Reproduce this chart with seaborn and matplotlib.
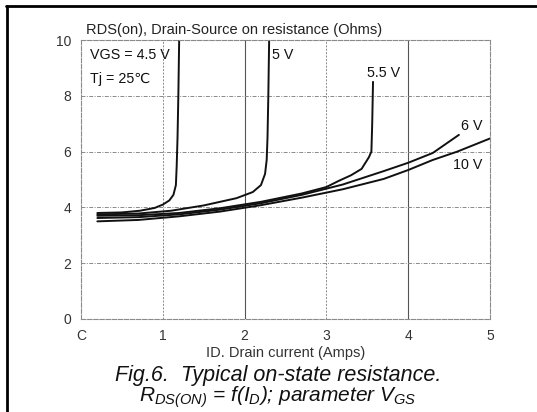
import matplotlib as mpl
import matplotlib.pyplot as plt
import numpy as np
import pandas as pd
import seaborn as sns
from matplotlib.lines import Line2D

id_45 = [0.2, 0.5, 0.72, 0.9, 1.0, 1.08, 1.13, 1.16, 1.17, 1.18, 1.19, 1.2]
r_45 = [3.8, 3.82, 3.88, 3.98, 4.1, 4.25, 4.45, 4.8, 5.5, 6.5, 8.0, 10.0]

id_5 = [0.2, 0.7, 1.1, 1.5, 1.9, 2.1, 2.2, 2.25, 2.27, 2.28, 2.29, 2.3]
r_5 = [3.75, 3.78, 3.88, 4.07, 4.33, 4.55, 4.8, 5.2, 5.7, 6.5, 8.0, 10.0]

id_55 = [0.2, 0.7, 1.2, 1.7, 2.2, 2.7, 3.0, 3.15, 3.3, 3.43, 3.52, 3.55, 3.56, 3.57]
r_55 = [3.7, 3.72, 3.8, 3.97, 4.2, 4.5, 4.73, 4.95, 5.15, 5.38, 5.8, 6.0, 7.0, 8.5]

id_6 = [0.2, 0.7, 1.2, 1.7, 2.2, 2.7, 3.2, 3.7, 4.0, 4.3, 4.62]
r_6 = [3.62, 3.65, 3.75, 3.92, 4.15, 4.45, 4.82, 5.3, 5.6, 5.95, 6.6]

id_10 = [0.2, 0.7, 1.2, 1.7, 2.2, 2.7, 3.2, 3.7, 4.0, 4.3, 4.6, 5.0]
r_10 = [3.5, 3.55, 3.68, 3.85, 4.08, 4.35, 4.65, 5.02, 5.34, 5.7, 6.0, 6.47]

vgs_names = ["4.5 V", "5 V", "5.5 V", "6 V", "10 V"]
x_ticks = [0, 1, 2, 3, 4, 5]
x_ticklabels = ["C", "1", "2", "3", "4", "5"]
y_ticks = [0, 2, 4, 6, 8, 10]

INK = "#111111"
GRID = "#8a8a8a"


def build_frame():
    parts = []
    for name, xs, ys in zip(vgs_names, [id_45, id_5, id_55, id_6, id_10],
                            [r_45, r_5, r_55, r_6, r_10]):
        parts.append(pd.DataFrame({"id": xs, "rds": ys, "vgs": name,
                                   "order": np.arange(len(xs))}))
    return pd.concat(parts, ignore_index=True)


def main():
    sns.set_style("white")
    mpl.rcParams["font.family"] = ["Liberation Sans", "DejaVu Sans"]
    mpl.rcParams["mathtext.fontset"] = "custom"
    mpl.rcParams["mathtext.it"] = "Liberation Sans:italic"
    mpl.rcParams["mathtext.rm"] = "Liberation Sans:italic"

    fig = plt.figure(figsize=(5.37, 4.12), dpi=100)
    ax = fig.add_axes([81 / 537, 93 / 412, 409 / 537, 279 / 412])

    df = build_frame()
    sns.lineplot(data=df, x="id", y="rds", units="vgs", estimator=None,
                 sort=False, color=INK, linewidth=1.4, ax=ax, legend=False)

    ax.set_xlim(0, 5)
    ax.set_ylim(0, 10)
    ax.set_xticks(x_ticks, x_ticklabels)
    ax.set_yticks(y_ticks)
    ax.tick_params(length=0, labelsize=10, colors="#333333")
    ax.tick_params(axis="x", pad=7)
    ax.tick_params(axis="y", pad=7)
    ax.set_xlabel("ID. Drain current (Amps)", fontsize=10.5, color="#333333", labelpad=2)
    ax.set_ylabel("")

    # grid: solid at x = 2, 4, dotted elsewhere
    for gx in [1, 3]:
        ax.axvline(gx, color=GRID, lw=0.7, ls=(0, (2, 1.5)), zorder=0)
    for gx in [2, 4]:
        ax.axvline(gx, color="#555555", lw=0.8, zorder=0)
    for gy in [2, 4, 6, 8]:
        ax.axhline(gy, color=GRID, lw=0.7, ls=(0, (4, 1.5, 1, 1.5)), zorder=0)
    for side in ["top", "right", "bottom", "left"]:
        ax.spines[side].set_color(GRID)
        ax.spines[side].set_linewidth(0.8)
        ax.spines[side].set_linestyle((0, (4, 1.5)))

    ax.text(0.012, 1.012, "RDS(on), Drain-Source on resistance (Ohms)",
            transform=ax.transAxes, fontsize=10.5, color="#222222",
            ha="left", va="bottom")

    lab = dict(fontsize=10.3, color=INK, va="center")
    ax.text(0.11, 9.45, "VGS = 4.5 V", **lab)
    ax.text(0.11, 8.62, "Tj = 25\u2103", **lab)
    ax.text(2.34, 9.45, "5 V", **lab)
    ax.text(3.5, 8.8, "5.5 V", **lab)
    ax.text(4.65, 6.9, "6 V", **lab)
    ax.text(4.55, 5.52, "10 V", **lab)

    fig.text(278 / 537, 1 - 376 / 412, "Fig.6.  Typical on-state resistance.",
             fontsize=15.5, style="italic", ha="center", va="center", color=INK)
    fig.text(278 / 537, 1 - 397 / 412,
             r"$R_{DS(ON)}$ = f($I_D$); parameter $V_{GS}$",
             fontsize=15, style="italic", ha="center", va="center", color=INK)

    # scanned frame: left and top edges
    fig.add_artist(Line2D([7 / 537, 7 / 537], [0, 1 - 6 / 412],
                          transform=fig.transFigure, color="black", lw=2))
    fig.add_artist(Line2D([6 / 537, 1], [1 - 6 / 412, 1 - 6 / 412],
                          transform=fig.transFigure, color="black", lw=2))

    fig.savefig("out.png", dpi=100)


if __name__ == "__main__":
    main()
